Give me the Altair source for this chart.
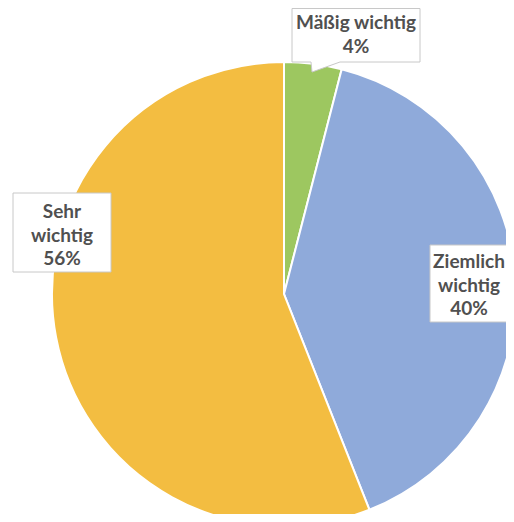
import altair as alt
import pandas as pd

# --- data ---
categories = ["Mäßig wichtig", "Ziemlich wichtig", "Sehr wichtig"]
values = [4, 40, 56]
label_lines = ["Mäßig wichtig", "Ziemlich\nwichtig", "Sehr\nwichtig"]
colors = ["#9DC760", "#8FAADA", "#F3BD41"]

# --- layout (pixel positions of annotation boxes / first label line) ---
label_x = [348, 461, 54]
label_y = [15, 254, 204]
box_x = [422, 5]
box_x2 = [520, 103]
box_y = [237, 185]
box_y2 = [314, 264]

W, H = 498, 506
CX, CY, R = 276, 286, 232

df = pd.DataFrame({
    "category": categories,
    "value": values,
    "order": list(range(len(categories))),
    "label": [f"{l}\n{v}%" for l, v in zip(label_lines, values)],
    "lx": label_x,
    "ly": label_y,
})

color_scale = alt.Scale(domain=categories, range=colors)

pie = alt.Chart(df).mark_arc(radius=R, stroke="white", strokeWidth=2).encode(
    theta=alt.Theta("value:Q", stack=True),
    order=alt.Order("order:Q"),
    color=alt.Color("category:N", scale=color_scale, legend=None),
    x=alt.value(CX),
    y=alt.value(CY),
)

boxes_df = pd.DataFrame({"bx": box_x, "bx2": box_x2, "by": box_y, "by2": box_y2})
boxes = alt.Chart(boxes_df).mark_rect(fill="white", stroke="#C8C8C8", strokeWidth=1).encode(
    x=alt.X("bx:Q", scale=None, axis=None),
    x2="bx2:Q",
    y=alt.Y("by:Q", scale=None, axis=None),
    y2="by2:Q",
)

callout_path = "M284,0.5H412V54H332L304,64L303,54H284Z"
callout = alt.Chart(pd.DataFrame({"k": [0]})).mark_point(
    shape=callout_path, size=4, filled=True, fill="white", stroke="#C8C8C8",
    strokeWidth=1, opacity=1
).encode(x=alt.value(0), y=alt.value(0))

labels = alt.Chart(df).mark_text(
    font="Lato", fontWeight="bold", fontSize=19, color="#505050",
    lineBreak="\n", lineHeight=23.5, align="center", baseline="middle"
).encode(
    x=alt.X("lx:Q", scale=None, axis=None),
    y=alt.Y("ly:Q", scale=None, axis=None),
    text="label:N",
)

chart = alt.layer(pie, boxes, callout, labels).properties(
    width=W, height=H, padding=0, background="white",
    autosize=alt.AutoSizeParams(type="none"),
).configure_view(stroke=None)

chart.save("out.html", embed_options={"renderer": "svg", "actions": False})
